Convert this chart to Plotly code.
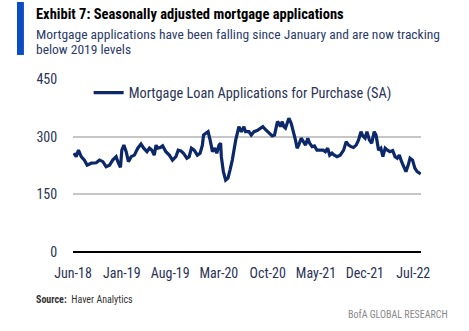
import plotly.graph_objects as go

# Weekly MBA purchase index (SA), sampled readings
dates = [
    "2018-06-05", "2018-06-15", "2018-06-25", "2018-07-07", "2018-07-21", "2018-08-02",
    "2018-08-20", "2018-09-11", "2018-09-25", "2018-10-10", "2018-10-24", "2018-11-08",
    "2018-11-22", "2018-12-07", "2018-12-17", "2018-12-26", "2019-01-01", "2019-01-10",
    "2019-01-20", "2019-01-30", "2019-02-11", "2019-02-25", "2019-03-12", "2019-03-26",
    "2019-04-07", "2019-04-21", "2019-05-02", "2019-05-12", "2019-05-23", "2019-05-31",
    "2019-06-07", "2019-06-19", "2019-06-29", "2019-07-13", "2019-07-28", "2019-08-11",
    "2019-08-26", "2019-09-05", "2019-09-17", "2019-09-28", "2019-10-13", "2019-10-23",
    "2019-11-02", "2019-11-14", "2019-11-28", "2019-12-10", "2019-12-20", "2019-12-25",
    "2020-01-04", "2020-01-14", "2020-01-23", "2020-02-02", "2020-02-12", "2020-02-21",
    "2020-03-02", "2020-03-09", "2020-03-12", "2020-03-21", "2020-03-31", "2020-04-10",
    "2020-04-19", "2020-04-29", "2020-05-14", "2020-05-28", "2020-06-08", "2020-06-19",
    "2020-06-26", "2020-07-11", "2020-07-21", "2020-08-02", "2020-08-16", "2020-08-31",
    "2020-09-10", "2020-09-22", "2020-10-06", "2020-10-21", "2020-10-31", "2020-11-13",
    "2020-11-19", "2020-11-26", "2020-12-04", "2020-12-11", "2020-12-18", "2021-01-02",
    "2021-01-12", "2021-01-21", "2021-01-31", "2021-02-07", "2021-02-14", "2021-02-25",
    "2021-03-05", "2021-03-16", "2021-03-26", "2021-04-03", "2021-04-14", "2021-04-24",
    "2021-05-05", "2021-05-20", "2021-06-01", "2021-06-11", "2021-06-21", "2021-06-30",
    "2021-07-10", "2021-07-20", "2021-08-01", "2021-08-15", "2021-08-30", "2021-09-10",
    "2021-09-21", "2021-10-01", "2021-10-12", "2021-10-24", "2021-11-03", "2021-11-14",
    "2021-11-22", "2021-12-02", "2021-12-10", "2021-12-21", "2021-12-31", "2022-01-11",
    "2022-01-19", "2022-01-30", "2022-02-09", "2022-02-18", "2022-02-28", "2022-03-10",
    "2022-03-21", "2022-04-02", "2022-04-12", "2022-04-22", "2022-05-01", "2022-05-11",
    "2022-05-21", "2022-05-30", "2022-06-09", "2022-06-17", "2022-06-28", "2022-07-08",
    "2022-07-18", "2022-07-27", "2022-08-03",
]
purchase_index = [
    257, 248, 265, 248, 239, 226,
    231, 232, 239, 235, 222, 226,
    239, 248, 231, 220, 265, 278,
    261, 235, 248, 252, 270, 281,
    270, 261, 270, 265, 252, 278,
    270, 272, 276, 261, 252, 239,
    248, 265, 263, 257, 244, 248,
    270, 265, 252, 257, 278, 304,
    309, 313, 291, 261, 270, 257,
    278, 283, 248, 209, 187, 192,
    213, 239, 291, 326, 313, 326,
    313, 313, 304, 313, 316, 322,
    326, 318, 309, 302, 304, 339,
    335, 326, 339, 326, 322, 348,
    335, 317, 291, 270, 278, 296,
    287, 278, 296, 283, 274, 276,
    265, 264, 265, 261, 270, 252,
    257, 252, 248, 252, 265, 287,
    278, 274, 272, 278, 291, 313,
    302, 296, 313, 291, 283, 313,
    304, 265, 270, 248, 270, 265,
    261, 264, 248, 244, 252, 235,
    222, 209, 226, 244, 239, 218,
    209, 205, 203,
]

series_name = "Mortgage Loan Applications for Purchase (SA)"
tick_dates = ["2018-06-01", "2019-01-01", "2019-08-01", "2020-03-01",
              "2020-10-01", "2021-05-01", "2021-12-01", "2022-07-01"]
tick_labels = ["Jun-18", "Jan-19", "Aug-19", "Mar-20", "Oct-20", "May-21", "Dec-21", "Jul-22"]
y_ticks = [0, 150, 300, 450]

FONT = "Liberation Sans Narrow, Roboto Condensed, Lato, sans-serif"
NAVY = "#0c2869"

fig = go.Figure()
fig.add_trace(go.Scatter(
    x=dates, y=purchase_index, mode="lines", name=series_name,
    line=dict(color=NAVY, width=3.2),
))

fig.update_layout(
    width=469, height=331,
    margin=dict(l=73, r=48, t=79, b=79),
    paper_bgcolor="white", plot_bgcolor="white",
    font=dict(family=FONT, color="#333333", size=14),
    showlegend=True,
    legend=dict(x=0.045, y=0.92, xanchor="left", yanchor="middle",
                bgcolor="rgba(0,0,0,0)", font=dict(size=14.3, color="#2b3357", family=FONT)),
    xaxis=dict(
        type="date", range=["2018-06-01", "2022-08-04"],
        tickvals=tick_dates, ticktext=tick_labels,
        showgrid=False, zeroline=False, showline=False,
        ticks="outside", ticklen=8, tickcolor="rgba(0,0,0,0)",
        tickfont=dict(size=14, color="#2b3357"),
    ),
    yaxis=dict(
        range=[0, 450], tickvals=y_ticks,
        showgrid=True, gridcolor="#c6c6c6", gridwidth=1.5,
        zeroline=True, zerolinecolor="#000000", zerolinewidth=1.5,
        showline=False,
        ticks="outside", ticklen=12, tickcolor="rgba(0,0,0,0)",
        tickfont=dict(size=14, color="#2b3357"),
    ),
)

# Blue accent bar beside the heading
fig.add_shape(type="rect", xref="paper", yref="paper",
              x0=-0.161, x1=-0.141, y0=1.139, y1=1.445,
              fillcolor="#0a4cc4", line=dict(width=0))

fig.add_annotation(xref="paper", yref="paper", x=-0.112, y=1.370,
                   xanchor="left", yanchor="middle", showarrow=False,
                   text="<b>Exhibit 7: Seasonally adjusted mortgage applications</b>",
                   font=dict(size=14.5, color="#000000", family=FONT))
fig.add_annotation(xref="paper", yref="paper", x=-0.112, y=1.260,
                   xanchor="left", yanchor="middle", showarrow=False,
                   text="Mortgage applications have been falling since January and are now tracking",
                   font=dict(size=13.5, color="#2b3a6a", family=FONT))
fig.add_annotation(xref="paper", yref="paper", x=-0.112, y=1.173,
                   xanchor="left", yanchor="middle", showarrow=False,
                   text="below 2019 levels",
                   font=dict(size=13.5, color="#2b3a6a", family=FONT))
fig.add_annotation(xref="paper", yref="paper", x=-0.112, y=-0.277,
                   xanchor="left", yanchor="middle", showarrow=False,
                   text="<b>Source:</b>  Haver Analytics",
                   font=dict(size=10, color="#333333", family=FONT))
fig.add_annotation(xref="paper", yref="paper", x=1.083, y=-0.364,
                   xanchor="right", yanchor="middle", showarrow=False,
                   text="BofA GLOBAL RESEARCH",
                   font=dict(size=10, color="#8a8a8a", family=FONT))

fig.write_html("out.html")
